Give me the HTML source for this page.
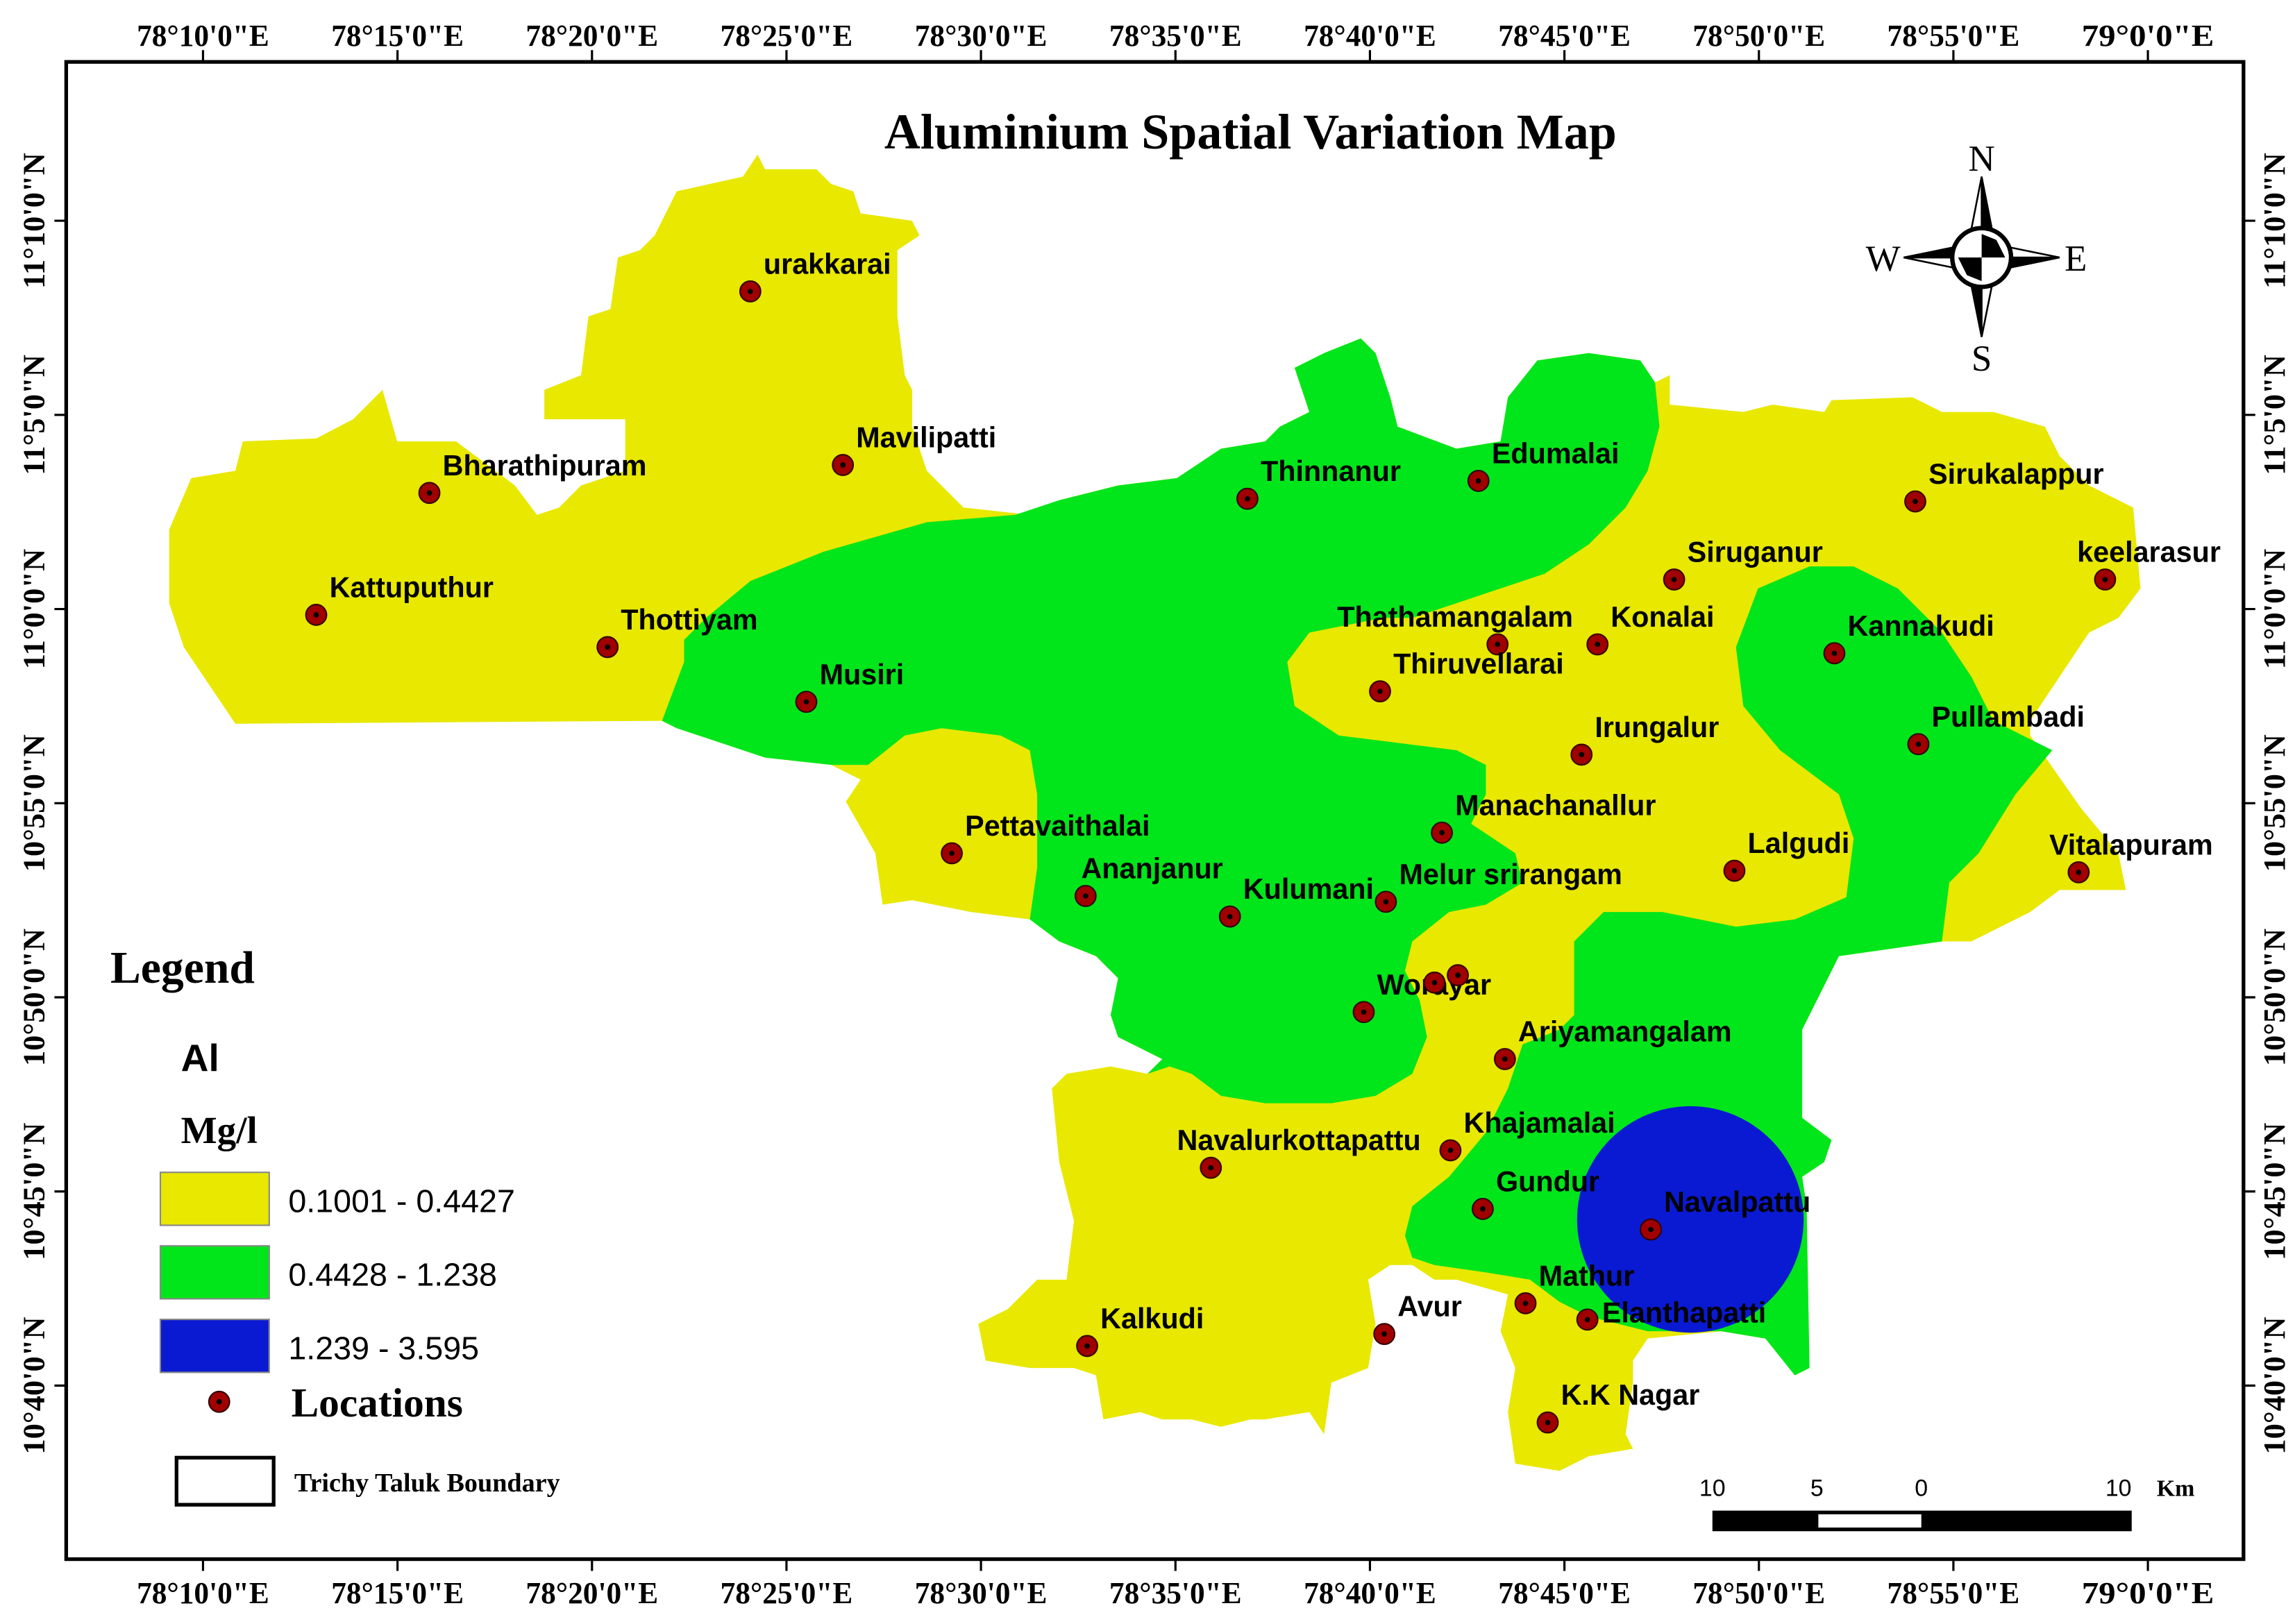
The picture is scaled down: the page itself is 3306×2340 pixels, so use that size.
<!DOCTYPE html>
<html><head><meta charset="utf-8"><style>
html,body{margin:0;padding:0;background:#fff;}
svg{display:block;}
.tk{font-family:"Liberation Serif",serif;font-weight:bold;font-size:21px;}
.loc{font-family:"Liberation Sans",sans-serif;font-weight:bold;font-size:19.5px;fill:#000;}
</style></head><body>
<svg id="map" width="3306" height="2340" viewBox="0 0 1560 1104" xmlns="http://www.w3.org/2000/svg">
<rect x="0" y="0" width="1560" height="1104" fill="#fff"/>
<g id="regions">
<polygon fill="#e8e800" points="115,360 130,325 160,320 165,300 215,298 240,285 260,265 270,300 310,300 350,330 365,350 380,345 395,330 425,320 425,285 370,285 370,265 395,255 400,215 415,210 420,175 435,170 445,160 460,130 505,120 515,105 520,115 555,115 565,125 580,130 585,145 620,150 625,160 610,170 610,215 615,255 620,265 620,290 630,320 655,345 700,350 720,340 760,330 800,325 830,305 860,300 870,290 890,280 880,250 900,240 925,230 935,240 945,270 950,290 990,305 1020,300 1025,270 1045,245 1080,240 1115,245 1125,260 1135,255 1135,275 1185,280 1205,275 1240,280 1245,272 1300,270 1320,280 1355,280 1390,290 1400,310 1420,330 1450,345 1455,400 1440,420 1420,430 1400,460 1380,490 1380,500 1415,550 1440,580 1445,605 1400,605 1380,620 1340,640 1320,640 1250,650 1225,700 1225,760 1245,775 1240,790 1225,800 1228,820 1230,930 1220,935 1200,910 1170,905 1120,910 1110,925 1110,940 1105,975 1110,985 1080,990 1060,1000 1030,995 1025,960 1030,930 1020,905 1025,880 990,870 975,870 960,860 945,860 930,870 935,900 930,930 905,940 900,975 890,960 860,965 850,965 830,970 810,965 790,965 775,960 750,965 745,935 730,930 700,930 670,925 665,900 685,890 705,870 725,870 730,830 720,790 715,740 725,730 755,725 780,730 790,720 760,705 755,690 760,665 745,650 720,640 700,625 660,620 620,612 600,615 595,580 575,545 585,530 565,520 520,515 460,495 450,490 160,492 125,440 115,410"/>
<polygon fill="#00e61a" points="450,490 465,450 465,435 480,420 510,395 560,375 630,355 690,350 720,340 760,330 800,325 830,305 860,300 870,290 890,280 880,250 900,240 925,230 935,240 945,270 950,290 990,305 1020,300 1025,270 1045,245 1080,240 1115,245 1125,260 1128,290 1120,320 1105,345 1080,370 1050,390 1020,400 990,410 960,420 940,420 915,425 890,430 875,450 880,480 910,500 950,505 990,510 1010,520 1010,540 1000,560 1030,580 1035,600 1010,615 985,620 960,640 955,660 965,680 970,705 960,730 935,745 905,750 860,750 830,745 810,730 795,725 780,730 790,720 760,705 755,690 760,665 745,650 720,640 700,625 705,590 705,540 700,510 680,500 640,495 615,500 590,520 565,520 520,515 460,495"/>
<polygon fill="#00e61a" points="1070,640 1090,620 1130,620 1180,630 1220,625 1255,610 1260,570 1250,540 1210,510 1185,480 1180,440 1195,400 1230,385 1260,385 1290,400 1320,430 1340,460 1355,490 1395,510 1370,540 1345,580 1325,600 1320,640 1250,650 1225,700 1225,760 1245,775 1240,790 1225,800 1228,820 1230,930 1220,935 1200,910 1170,905 1120,905 1100,900 1080,895 1060,885 1040,870 1010,865 975,860 960,855 955,840 960,820 985,800 1010,770 1025,740 1035,710 1060,700 1070,690"/>
<rect x="1072" y="752" width="154" height="154" rx="77" ry="77" fill="#0a1ad2"/>
</g>
<rect x="45" y="42" width="1480" height="1018" fill="none" stroke="#000" stroke-width="2.5"/>
<g id="ticks"></g>
<g id="locs"></g>
<text x="850" y="101" text-anchor="middle" font-family="Liberation Serif,serif" font-weight="bold" font-size="34">Aluminium Spatial Variation Map</text>
<g stroke="#000" stroke-width="1.2" stroke-linejoin="miter">
<polygon points="1347,120 1347,175 1356,166" fill="#000"/>
<polygon points="1347,120 1347,175 1338,166" fill="#fff"/>
<polygon points="1347,229 1347,175 1338,184" fill="#000"/>
<polygon points="1347,229 1347,175 1356,184" fill="#fff"/>
<polygon points="1294,175 1347,175 1338,166" fill="#000"/>
<polygon points="1294,175 1347,175 1338,184" fill="#fff"/>
<polygon points="1400,175 1347,175 1356,184" fill="#000"/>
<polygon points="1400,175 1347,175 1356,166" fill="#fff"/>
<circle cx="1347" cy="175" r="20" fill="#fff" stroke="#000" stroke-width="3"/>
<path d="M1347,159 L1357,163 L1363,175 L1347,175 Z M1347,191 L1337,187 L1331,175 L1347,175 Z" fill="#000" stroke="none"/>
<g stroke="none" font-family="Liberation Serif,serif" font-size="25" text-anchor="middle">
<text x="1347" y="116">N</text>
<text x="1347" y="252">S</text>
<text x="1280" y="184">W</text>
<text x="1411" y="184">E</text>
</g>
</g>
<g font-family="Liberation Serif,serif">
<text x="75" y="668" font-weight="bold" font-size="31">Legend</text>
<text x="123" y="728" font-family="Liberation Sans,sans-serif" font-weight="bold" font-size="26">Al</text>
<text x="123" y="777" font-weight="bold" font-size="26">Mg/l</text>
<rect x="109" y="797" width="74" height="36" fill="#e8e800" stroke="#888" stroke-width="1"/>
<rect x="109" y="847" width="74" height="36" fill="#00e61a" stroke="#888" stroke-width="1"/>
<rect x="109" y="897" width="74" height="36" fill="#0a1ad2" stroke="#888" stroke-width="1"/>
<text x="196" y="824" font-family="Liberation Sans,sans-serif" font-size="22">0.1001 - 0.4427</text>
<text x="196" y="874" font-family="Liberation Sans,sans-serif" font-size="22">0.4428 - 1.238</text>
<text x="196" y="924" font-family="Liberation Sans,sans-serif" font-size="22">1.239 - 3.595</text>
<circle cx="149" cy="953" r="7" fill="#a00000" stroke="#300" stroke-width="1"/><circle cx="149" cy="953" r="1.8" fill="#000"/>
<text x="198" y="963" font-weight="bold" font-size="28">Locations</text>
<rect x="120" y="991" width="66" height="32" fill="#fff" stroke="#000" stroke-width="2.5"/>
<text x="200" y="1014" font-weight="bold" font-size="18">Trichy Taluk Boundary</text>
</g>
<g font-family="Liberation Sans,sans-serif" font-size="16">
<rect x="1164" y="1027" width="285" height="14" fill="#000"/>
<rect x="1236" y="1029.5" width="70" height="9" fill="#fff"/>
<text x="1164" y="1017" text-anchor="middle">10</text>
<text x="1235" y="1017" text-anchor="middle">5</text>
<text x="1306" y="1017" text-anchor="middle">0</text>
<text x="1440" y="1017" text-anchor="middle">10</text>
<text x="1466" y="1017" font-family="Liberation Serif,serif" font-weight="bold">Km</text>
</g>
<script>
var lonTicks = [10, 15, 20, 25, 30, 35, 40, 45, 50, 55, 60];
var lonTickLabels = ["78°10'0\"E","78°15'0\"E","78°20'0\"E","78°25'0\"E","78°30'0\"E","78°35'0\"E","78°40'0\"E","78°45'0\"E","78°50'0\"E","78°55'0\"E","79°0'0\"E"];
var latTicks = [70, 65, 60, 55, 50, 45, 40];
var latTickLabels = ["11°10'0\"N","11°5'0\"N","11°0'0\"N","10°55'0\"N","10°50'0\"N","10°45'0\"N","10°40'0\"N"];
var locNames = ["urakkarai","Bharathipuram","Mavilipatti","Kattuputhur","Thottiyam","Musiri","Thinnanur","Edumalai","Sirukalappur","Siruganur","keelarasur","Thathamangalam","Konalai","Kannakudi","Thiruvellarai","Irungalur","Pullambadi","Manachanallur","Pettavaithalai","Ananjanur","Lalgudi","Vitalapuram","Kulumani","Melur srirangam","Worayar","","","Ariyamangalam","Khajamalai","Navalurkottapattu","Gundur","Navalpattu","Mathur","Elanthapatti","Avur","Kalkudi","K.K Nagar"];
var locLon = [24.07,15.82,26.45,12.91,20.40,25.51,36.85,42.79,54.02,47.82,58.90,43.28,45.85,51.94,40.26,45.44,54.10,41.85,29.25,32.69,49.37,58.22,36.40,40.41,39.84,41.66,42.26,43.47,42.07,35.91,42.90,47.22,44.00,45.59,40.37,32.73,44.57];
var locLat = [68.18,62.99,63.71,59.85,59.02,57.61,62.84,63.30,62.77,60.76,60.76,59.09,59.09,58.86,57.88,56.25,56.52,54.24,53.71,52.61,53.26,53.22,52.08,52.46,49.62,50.38,50.57,48.41,46.06,45.61,44.55,44.02,42.12,41.70,41.33,41.02,39.05];
var labelDx = {"Thathamangalam":-109,"keelarasur":-19,"Ananjanur":-3,"Vitalapuram":-20,"Navalurkottapattu":-23,"Elanthapatti":10};
var labelDy = {"Elanthapatti":2};
function xOf(m){ return 138 + (m - 10) * 26.44; }
function yOf(m){ return 150 + (70 - m) * 26.4; }
var NS = "http://www.w3.org/2000/svg";
var tg = document.getElementById("ticks");
function mk(tag, attrs, parent){ var e = document.createElementNS(NS, tag); for (var k in attrs) e.setAttribute(k, attrs[k]); parent.appendChild(e); return e; }
lonTicks.forEach(function(m, i){
  var x = xOf(m);
  var l1 = mk("line", {x1:x, y1:42, x2:x, y2:34, stroke:"#000", "stroke-width":1.5}, tg);
  
  
  var l2 = mk("line", {x1:x, y1:1060, x2:x, y2:1068, stroke:"#000", "stroke-width":1.5}, tg);
  
  
  var t1 = mk("text", {x:x, y:31, "text-anchor":"middle", "class":"tk", textLength:90, lengthAdjust:"spacingAndGlyphs"}, tg);
  t1.textContent = lonTickLabels[i];
  
  
  var t2 = mk("text", {x:x, y:1090, "text-anchor":"middle", "class":"tk", textLength:90, lengthAdjust:"spacingAndGlyphs"}, tg);
  t2.textContent = lonTickLabels[i];
  
  
});
latTicks.forEach(function(m, i){
  var y = yOf(m);
  var l1 = mk("line", {x1:45, y1:y, x2:37, y2:y, stroke:"#000", "stroke-width":1.5}, tg);
  
  
  var l2 = mk("line", {x1:1525, y1:y, x2:1533, y2:y, stroke:"#000", "stroke-width":1.5}, tg);
  
  
  var t1 = mk("text", {x:0, y:0, "text-anchor":"middle", "class":"tk", "font-size":"19", transform:"translate(30,"+y+") rotate(-90)"}, tg);
  t1.textContent = latTickLabels[i];
  
  
  var t2 = mk("text", {x:0, y:0, "text-anchor":"middle", "class":"tk", "font-size":"19", transform:"translate(1553,"+y+") rotate(-90)"}, tg);
  t2.textContent = latTickLabels[i];
  
  
});
var lg = document.getElementById("locs");
locNames.forEach(function(n, i){
  var x = xOf(locLon[i]), y = yOf(locLat[i]);
  var c = mk("circle", {cx:x, cy:y, r:7, fill:"#a00000", stroke:"#300", "stroke-width":1}, lg);
  
  
  mk("circle", {cx:x, cy:y, r:1.8, fill:"#000"}, lg);
  if (n) {
    var dx = (n in labelDx) ? labelDx[n] : 9;
    var dy = (n in labelDy) ? labelDy[n] : -12;
    var t = mk("text", {x:x+dx, y:y+dy, "class":"loc"}, lg);
    t.textContent = n;
    
    
  }
});
</script>
</svg>
</body></html>
